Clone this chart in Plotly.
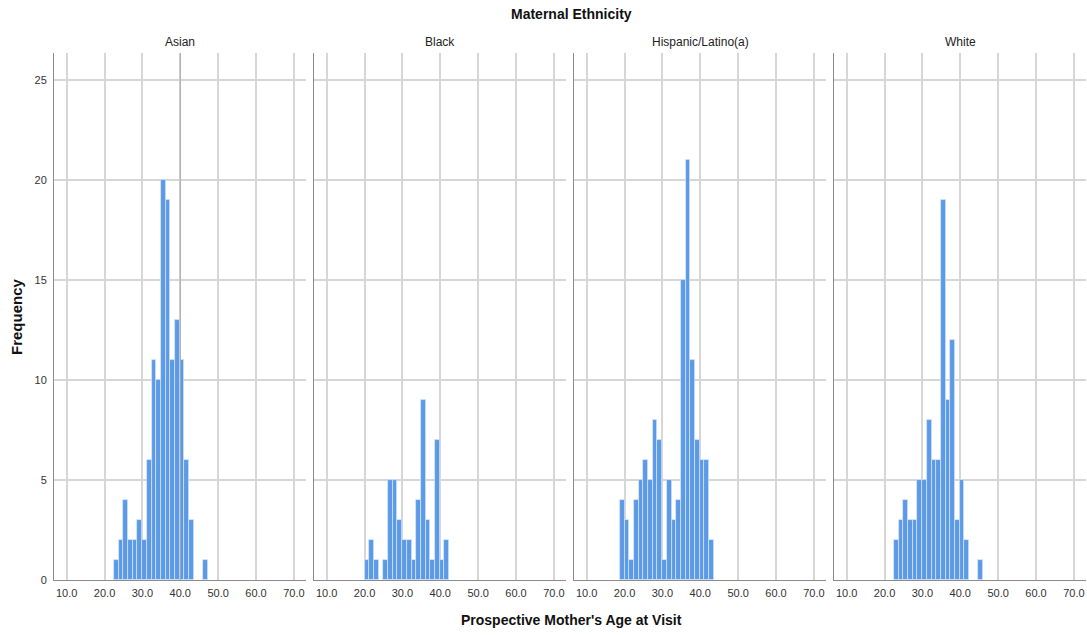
import plotly.graph_objects as go

# ---- data ----
groups = ["Asian", "Black", "Hispanic/Latino(a)", "White"]
bin_start = 18.76      # left edge of first age bin
bin_width = 1.24       # width of each age bin
asian_counts = [0, 0, 0, 1, 2, 4, 2, 2, 3, 2, 6, 11, 10, 20, 19, 11, 13, 11, 6, 3, 0, 0, 1]
black_counts = [0, 1, 2, 1, 0, 1, 5, 5, 3, 2, 2, 1, 4, 9, 3, 1, 7, 1, 2, 0, 0, 0, 0]
hispanic_counts = [4, 3, 1, 4, 5, 6, 5, 8, 7, 1, 5, 3, 4, 15, 21, 11, 7, 6, 6, 2, 0, 0, 0]
white_counts = [0, 0, 0, 2, 3, 4, 3, 3, 5, 5, 8, 6, 6, 19, 9, 12, 3, 5, 2, 0, 0, 1, 0]
x_ticks = [10, 20, 30, 40, 50, 60, 70]
x_tick_labels = ["10.0", "20.0", "30.0", "40.0", "50.0", "60.0", "70.0"]
y_ticks = [0, 5, 10, 15, 20, 25]

counts = [asian_counts, black_counts, hispanic_counts, white_counts]
centers = [bin_start + bin_width * (i + 0.5) for i in range(len(asian_counts))]

W, H = 1087, 635
FONT = "Liberation Sans, Arial, sans-serif"
BAR = "#5c9ae6"
GRID = "#d6d6d6"
AXIS = "#8c8c8c"

panels_px = [(54, 306), (314, 566), (574, 826), (834, 1086)]
y_dom = [1 - 580 / H, 1 - 53 / H]

fig = go.Figure()
layout = dict(
    template="none",
    width=W, height=H,
    margin=dict(l=0, r=0, t=0, b=0, pad=0),
    paper_bgcolor="white", plot_bgcolor="white",
    showlegend=False,
    bargap=0,
    font=dict(family=FONT, size=11, color="#333333"),
)
annotations = []
for k, (g, c) in enumerate(zip(groups, counts)):
    xa = "x" if k == 0 else f"x{k+1}"
    ya = "y" if k == 0 else f"y{k+1}"
    fig.add_trace(go.Bar(
        x=centers, y=[v if v > 0 else None for v in c], width=bin_width,
        marker=dict(color=BAR, line=dict(color="rgba(220,235,255,0.8)", width=0.8)),
        xaxis=xa, yaxis=ya, hoverinfo="x+y",
    ))
    l, r = panels_px[k]
    xkey = "xaxis" if k == 0 else f"xaxis{k+1}"
    ykey = "yaxis" if k == 0 else f"yaxis{k+1}"
    layout[xkey] = dict(
        domain=[l / W, r / W], anchor=ya, automargin=False,
        range=[6.65, 73.2],
        tickvals=x_ticks, ticktext=x_tick_labels,
        showgrid=True, gridcolor=GRID, gridwidth=1.5,
        zeroline=False, showline=True, linecolor=AXIS, linewidth=1,
        ticks="outside", ticklen=3, tickcolor="rgba(0,0,0,0)",
        tickfont=dict(size=11, color="#333333", family=FONT),
        fixedrange=True,
    )
    layout[ykey] = dict(
        domain=y_dom, anchor=xa, automargin=False,
        range=[0, 26.35],
        tickvals=y_ticks,
        showticklabels=(k == 0),
        showgrid=True, gridcolor=GRID, gridwidth=1.5,
        zeroline=False, showline=True, linecolor=AXIS, linewidth=1,
        ticks="outside", ticklen=4, tickcolor="rgba(0,0,0,0)",
        tickfont=dict(size=11, color="#333333", family=FONT),
        fixedrange=True,
    )
    annotations.append(dict(
        text=g, x=(l + r) / 2 / W, y=1 - 42 / H, xref="paper", yref="paper",
        xanchor="center", yanchor="middle", showarrow=False,
        font=dict(size=12, color="#222222", family=FONT),
    ))

annotations += [
    dict(text="<b>Maternal Ethnicity</b>", x=571 / W, y=1 - 14 / H, xref="paper", yref="paper",
         xanchor="center", yanchor="middle", showarrow=False,
         font=dict(size=14, color="#111111", family=FONT)),
    dict(text="<b>Prospective Mother's Age at Visit</b>", x=571 / W, y=1 - 620 / H,
         xref="paper", yref="paper", xanchor="center", yanchor="middle", showarrow=False,
         font=dict(size=14, color="#111111", family=FONT)),
    dict(text="<b>Frequency</b>", x=16 / W, y=1 - 317 / H, xref="paper", yref="paper",
         xanchor="center", yanchor="middle", showarrow=False, textangle=-90,
         font=dict(size=15, color="#111111", family=FONT)),
]
layout["annotations"] = annotations
layout["shapes"] = [dict(type="line", xref="x", yref="paper", x0=40, x1=40,
                         y0=y_dom[0], y1=y_dom[1], layer="above",
                         line=dict(color="#a8a8a8", width=1))]
fig.update_layout(**layout)
fig.write_html("out.html")
